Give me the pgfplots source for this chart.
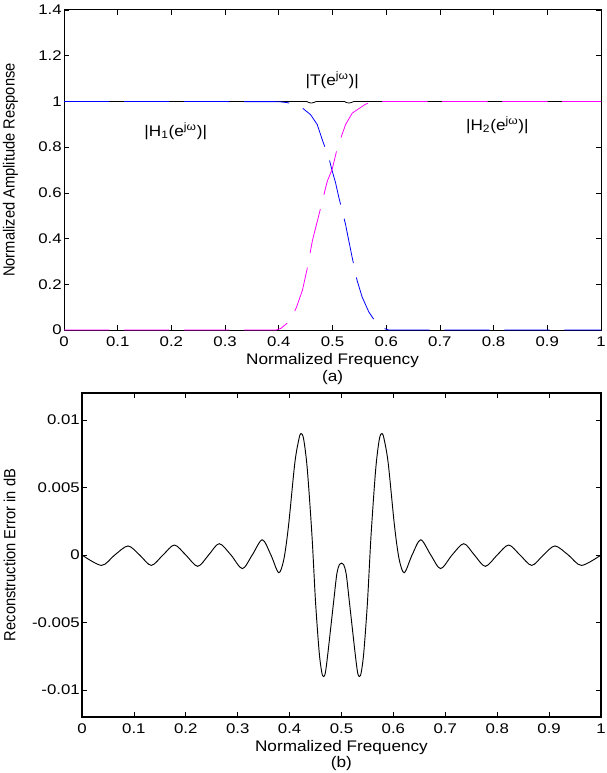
\documentclass[border=0pt]{standalone}
\usepackage{graphicx}
\usepackage{pgfplots}
\pgfplotsset{compat=1.18}
\usepackage{fontspec}
\setmainfont{Liberation Sans}
\definecolor{mblue}{RGB}{0,0,255}
\definecolor{mmag}{RGB}{255,0,255}

% text in the original is stretched sideways
\newcommand\tl[1]{\scalebox{1.2}[1]{#1}}
\newcommand\hx[1]{\scalebox{1.12}[1]{#1}}
\newcommand\vy[1]{\scalebox{1}[1.1]{#1}}

\pgfplotsset{
  mstyle/.style={
    scale only axis,
    axis line style={line width=0.75pt},
    tick align=inside,
    xtick pos=both, ytick pos=both,
    major tick length=3.5pt,
    tick style={black, line width=0.5pt},
    every tick label/.append style={font=\fontsize{10.5}{12}\selectfont},
    yticklabel style={inner sep=1.5pt},
    xticklabel style={yshift=-1.3pt},
    scaled y ticks=false,
    xmin=0, xmax=1,
    xtick={0,0.1,...,1},
    xticklabels={\tl{0},\tl{0.1},\tl{0.2},\tl{0.3},\tl{0.4},\tl{0.5},\tl{0.6},\tl{0.7},\tl{0.8},\tl{0.9},\tl{1}},
  }
}

\begin{document}
\begin{tikzpicture}
\path[use as bounding box] (0,0) rectangle (454.5pt,-579.75pt);

% (a) amplitude responses
\begin{axis}[mstyle,
  at={(48pt,-247.5pt)}, anchor=south west,
  width=402.75pt, height=240pt,
  ymin=0, ymax=1.4,
  ytick={0,0.2,...,1.4},
  yticklabels={\tl{0},\tl{0.2},\tl{0.4},\tl{0.6},\tl{0.8},\tl{1},\tl{1.2},\tl{1.4}},
]
% T
\addplot[black, line width=0.6pt] coordinates {
(0,1) (0.452,1) (0.456,0.995) (0.461,0.993) (0.466,0.996) (0.47,1)
(0.522,1) (0.526,0.995) (0.531,0.993) (0.536,0.996) (0.54,1) (1,1)};
% H1
\addplot[mblue, line width=0.6pt, dash pattern=on 34pt off 11pt] coordinates {
(0,1) (0.40,0.999) (0.415,0.995) (0.4286,0.988) (0.444,0.971) (0.4592,0.942)
(0.4716,0.899) (0.4808,0.833) (0.4932,0.754) (0.4994,0.696) (0.5056,0.645)
(0.5118,0.580) (0.5241,0.464) (0.5303,0.391) (0.5365,0.319) (0.5458,0.217)
(0.5551,0.145) (0.5674,0.080) (0.5798,0.036) (0.5952,0.007) (0.605,0) (1,0)};
% H2
\addplot[mmag, line width=0.6pt, dash pattern=on 34pt off 11pt] coordinates {
(0,0) (0.395,0) (0.4038,0.007) (0.4224,0.043) (0.433,0.10) (0.444,0.174)
(0.453,0.27) (0.4626,0.391) (0.475,0.507) (0.4904,0.652) (0.4994,0.703)
(0.509,0.797) (0.5244,0.899) (0.5368,0.949) (0.5616,0.988) (0.574,0.998)
(0.59,1) (1,1)};
\node[font=\fontsize{11.5}{13}\selectfont] at (axis cs:0.4995,1.091) {\hx{|T(e\textsuperscript{jω})|}};
\node[font=\fontsize{11.5}{13}\selectfont] at (axis cs:0.208,0.87) {\hx{|H\textsubscript{1}(e\textsuperscript{jω})|}};
\node[font=\fontsize{11.5}{13}\selectfont] at (axis cs:0.807,0.896) {\hx{|H\textsubscript{2}(e\textsuperscript{jω})|}};
\end{axis}

% (b) reconstruction error
\begin{axis}[mstyle,
  at={(61.5pt,-537.75pt)}, anchor=south west,
  width=389.25pt, height=243pt,
  axis line style={line width=1.1pt},
  ymin=-0.012, ymax=0.012,
  ytick={-0.01,-0.005,0,0.005,0.01},
  yticklabels={\tl{-0.01},\tl{-0.005},\tl{0},\tl{0.005},\tl{0.01}},
]
\addplot[black, line width=0.7pt, smooth, tension=0.5] coordinates {
(0,0) (0.0377,-0.00077) (0.063,0) (0.0887,0.00067) (0.111,0) (0.1335,-0.00077)
(0.156,0) (0.178,0.00074) (0.200,0) (0.2229,-0.00084) (0.244,0) (0.2644,0.00084)
(0.287,0) (0.309,-0.00101) (0.328,0) (0.3474,0.00113) (0.364,0) (0.379,-0.00131)
(0.389,-0.0003) (0.398,0.0022) (0.410,0.0068) (0.418,0.0086) (0.422,0.0090)
(0.427,0.0086) (0.434,0.0064) (0.443,0.0015) (0.450,-0.0035) (0.457,-0.0072)
(0.462,-0.0087) (0.4655,-0.0090) (0.469,-0.0087) (0.474,-0.0072) (0.485,-0.0034)
(0.491,-0.0014) (0.496,-0.0007) (0.5,-0.0006)
(0.504,-0.0007) (0.509,-0.0014) (0.515,-0.0034) (0.526,-0.0072) (0.531,-0.0087)
(0.5345,-0.0090) (0.538,-0.0087) (0.543,-0.0072) (0.550,-0.0035) (0.557,0.0015)
(0.566,0.0064) (0.573,0.0086) (0.578,0.0090) (0.582,0.0086) (0.590,0.0068)
(0.602,0.0022) (0.611,-0.0003) (0.621,-0.00131) (0.636,0) (0.6526,0.00113)
(0.672,0) (0.691,-0.00101) (0.713,0) (0.7356,0.00084) (0.756,0) (0.7771,-0.00084)
(0.800,0) (0.822,0.00074) (0.844,0) (0.8665,-0.00077) (0.889,0) (0.9113,0.00067)
(0.937,0) (0.9623,-0.00077) (1,0)};
\end{axis}

% axis titles and captions (page coordinates, 0.75pt per pixel)
\begin{scope}[every node/.style={font=\fontsize{11.5}{13}\selectfont, inner sep=0pt}]
\node[anchor=base] at (249.4pt,-273pt) {\hx{Normalized Frequency}};
\node[anchor=base] at (249.4pt,-285.75pt) {\hx{(a)}};
\node[anchor=base] at (256.1pt,-563.6pt) {\hx{Normalized Frequency}};
\node[anchor=base] at (256.1pt,-575.25pt) {\hx{(b)}};
\node[font=\fontsize{11}{13}\selectfont, rotate=90, anchor=base] at (10.9pt,-127.5pt) {\vy{Normalized Amplitude Response}};
\node[font=\fontsize{11}{13}\selectfont, rotate=90, anchor=base] at (11.5pt,-416.25pt) {\vy{Reconstruction Error in dB}};
\end{scope}
\end{tikzpicture}
\end{document}
